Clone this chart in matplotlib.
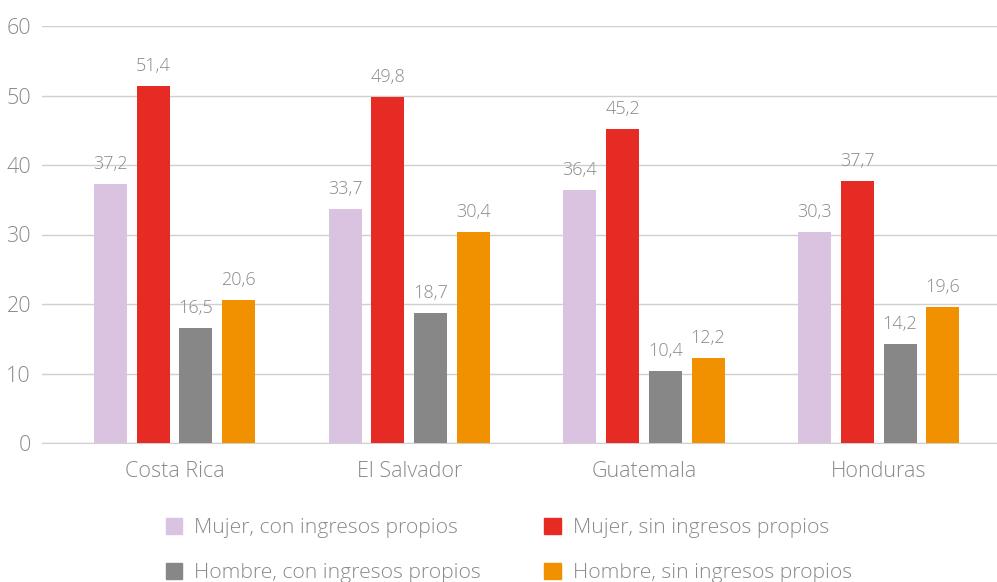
import matplotlib.pyplot as plt
from matplotlib.patches import Patch
import numpy as np

plt.rcParams['font.family'] = ['Open Sans', 'DejaVu Sans']
plt.rcParams['font.weight'] = 'light'

# data
paises = ["Costa Rica", "El Salvador", "Guatemala", "Honduras"]
series = ["Mujer, con ingresos propios", "Mujer, sin ingresos propios",
          "Hombre, con ingresos propios", "Hombre, sin ingresos propios"]
mujer_con = [37.2, 33.7, 36.4, 30.3]
mujer_sin = [51.4, 49.8, 45.2, 37.7]
hombre_con = [16.5, 18.7, 10.4, 14.2]
hombre_sin = [20.6, 30.4, 12.2, 19.6]
colors = ["#d9c3e0", "#e52b24", "#878787", "#f29100"]
txt_grey = "#8a8a8a"

fig = plt.figure(figsize=(9.97, 5.82), dpi=100)
ax = fig.add_axes([42 / 997, 1 - 443 / 582, 1 - 42 / 997, (443 - 26) / 582])

x = np.arange(len(paises))
w = 0.1406
step = 0.182
valores = [mujer_con, mujer_sin, hombre_con, hombre_sin]
for i, vals in enumerate(valores):
    bars = ax.bar(x + (i - 1.5) * step, vals, w, color=colors[i], zorder=3)
    for b, v in zip(bars, vals):
        ax.annotate(("%.1f" % v).replace(".", ","),
                    (b.get_x() + b.get_width() / 2, v),
                    xytext=(0, 8), textcoords="offset points",
                    ha="center", va="bottom", fontsize=13, color=txt_grey)

ax.set_ylim(0, 60)
ax.set_xlim(-0.565, 3.504)
ax.set_yticks(range(0, 61, 10))
ax.set_xticks(x)
ax.set_xticklabels(paises)
ax.grid(axis="y", color="#d0d0d0", linewidth=1, zorder=0)
for s in ["top", "right", "left"]:
    ax.spines[s].set_visible(False)
ax.spines["bottom"].set_color("#d0d0d0")
ax.tick_params(axis="both", length=0, labelsize=15.5, colors=txt_grey)
ax.tick_params(axis="x", pad=13)
ax.tick_params(axis="y", pad=8)

# legend filled row by row like the original
order = [0, 2, 1, 3]
handles = [Patch(color=colors[k]) for k in order]
labels = [series[k] for k in order]
fig.legend(handles, labels, loc="upper left", bbox_to_anchor=(0.166, 0.11),
           ncol=2, frameon=False, fontsize=15.2, labelcolor=txt_grey,
           handlelength=0.8, handleheight=0.8, handletextpad=0.55,
           columnspacing=3.0, labelspacing=1.15, borderpad=0, borderaxespad=0)

plt.savefig("out.png", dpi=100)
